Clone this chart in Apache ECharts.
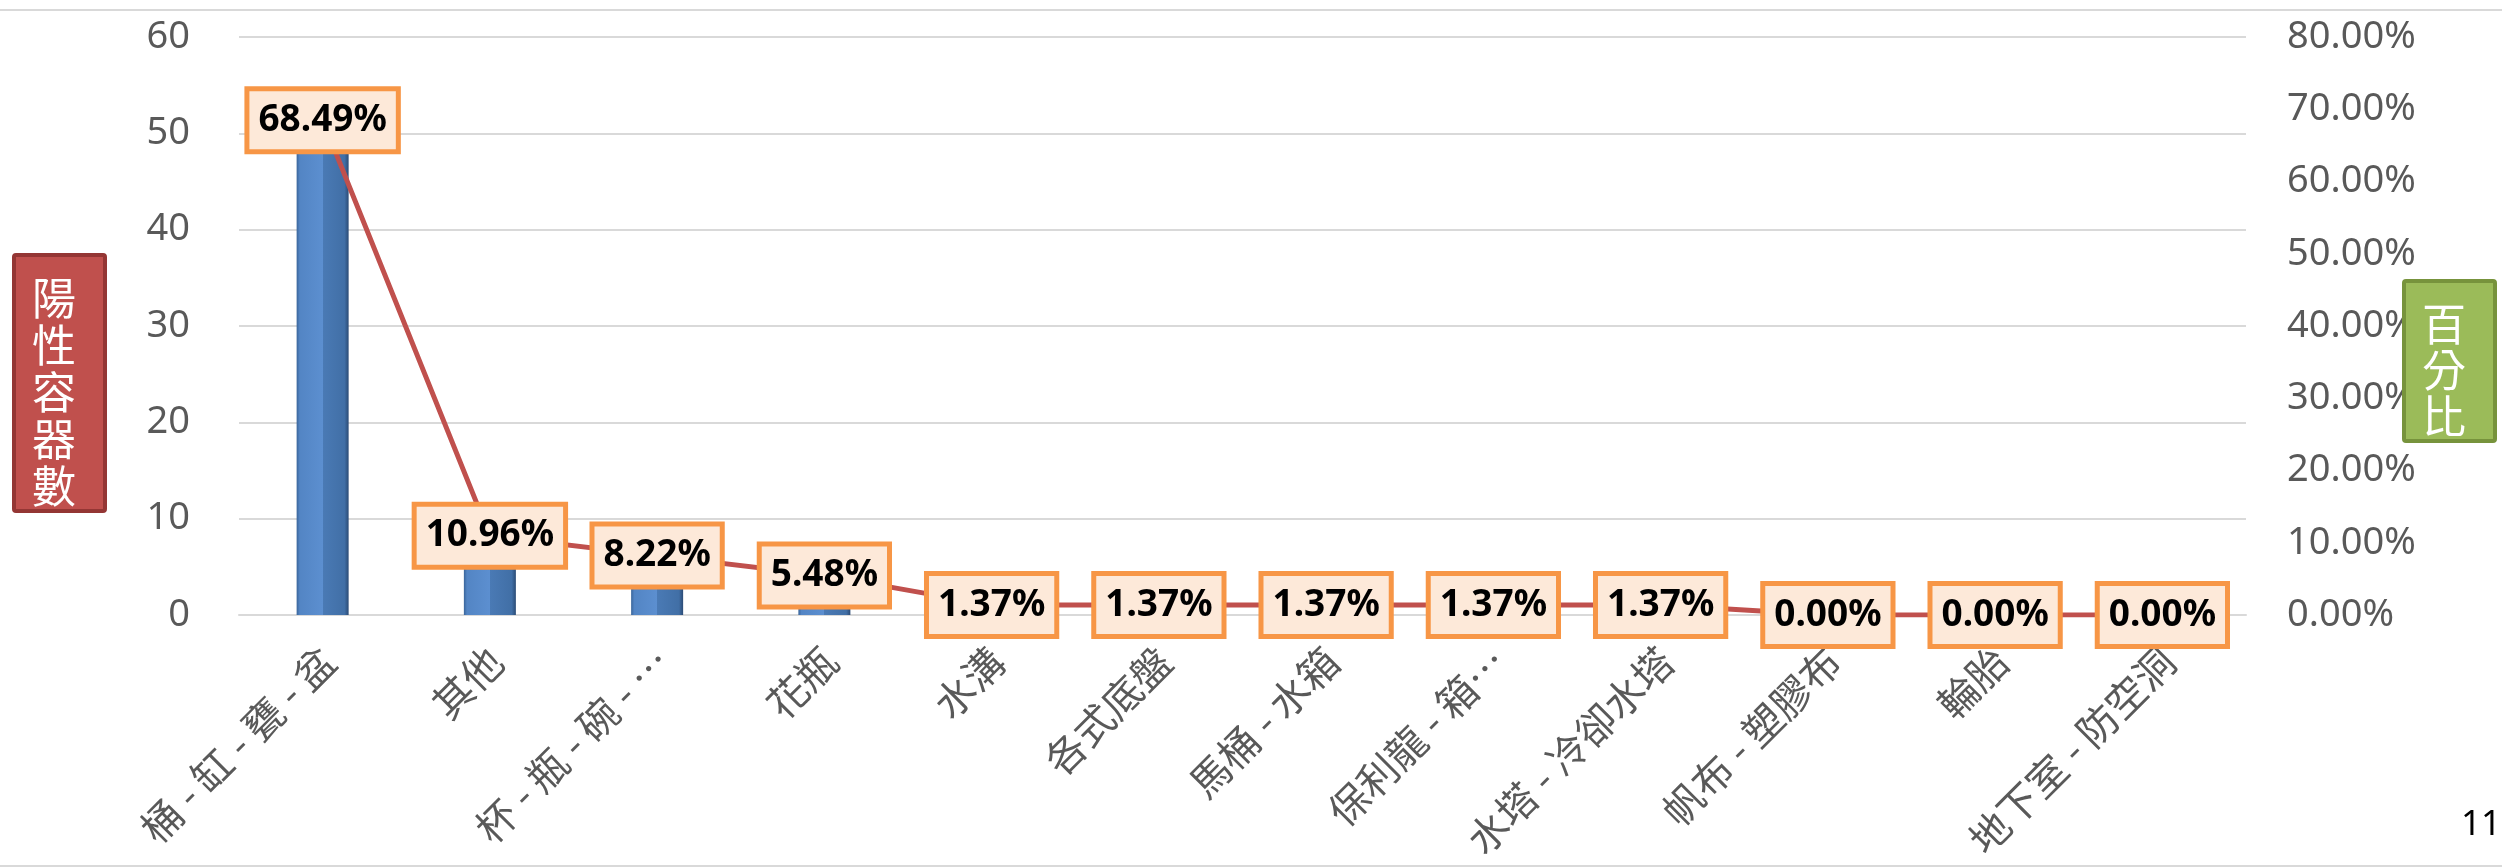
<!DOCTYPE html>
<html>
<head>
<meta charset="utf-8">
<script src="https://cdn.jsdelivr.net/npm/echarts@6/dist/echarts.min.js"></script>
<style>
html,body{margin:0;padding:0;background:#fff;}
#chart{width:2502px;height:867px;}
</style>
</head>
<body>
<div id="chart"></div>
<script>
var categories = ['桶 - 缸 - 甕 - 盆', '其他', '杯 - 瓶 - 碗 - …', '花瓶', '水溝', '各式底盤', '馬桶 - 水箱', '保利龍 - 箱…', '水塔 - 冷卻水塔', '帆布 - 塑膠布', '輪胎', '地下室 - 防空洞'];
var counts = [50, 8, 6, 4, 1, 1, 1, 1, 1, 0, 0, 0];
var percents = [0.6849, 0.1096, 0.0822, 0.0548, 0.0137, 0.0137, 0.0137, 0.0137, 0.0137, 0, 0, 0];
var leftTitle = '陽性容器數';
var rightTitle = '百分比';
var pageNumber = '11';

var chart = echarts.init(document.getElementById('chart'));
var grey = '#595959';
var gridGrey = '#d9d9d9';
var option = {
  backgroundColor: '#ffffff',
  animation: false,
  grid: { left: 239, right: 256, top: 37, bottom: 252, containLabel: false, outerBoundsMode: 'none' },
  xAxis: {
    type: 'category',
    data: categories,
    axisTick: { show: false },
    axisLine: { show: true, lineStyle: { color: gridGrey, width: 2 } },
    axisLabel: { interval: 0, rotate: 45, fontSize: 40, color: grey, margin: 45, padding: [0, -8, 0, 0], fontFamily: 'Noto Sans CJK TC' }
  },
  yAxis: [
    {
      type: 'value', min: 0, max: 60, interval: 10,
      axisLine: { show: false }, axisTick: { show: false },
      splitLine: { show: true, lineStyle: { color: gridGrey, width: 2 } },
      axisLabel: { fontSize: 38, color: grey, margin: 49, fontFamily: 'Noto Sans' }
    },
    {
      type: 'value', min: 0, max: 0.8, interval: 0.1, position: 'right',
      axisLine: { show: false }, axisTick: { show: false },
      splitLine: { show: false },
      axisLabel: {
        fontSize: 38, color: grey, margin: 41, fontFamily: 'Noto Sans',
        formatter: function (v) { return (v * 100).toFixed(2) + '%'; }
      }
    }
  ],
  series: [
    {
      type: 'bar',
      data: counts,
      barWidth: 52,
      z: 2,
      itemStyle: {
        color: {
          type: 'linear', x: 0, y: 0, x2: 1, y2: 0,
          colorStops: [
            { offset: 0, color: '#3a659a' },
            { offset: 0.06, color: '#5385c4' },
            { offset: 0.5, color: '#5c8fd0' },
            { offset: 0.5, color: '#4a7ab5' },
            { offset: 0.92, color: '#416fa6' },
            { offset: 1, color: '#2b4b75' }
          ]
        }
      }
    },
    {
      type: 'line',
      yAxisIndex: 1,
      data: percents,
      z: 5,
      symbol: 'circle',
      symbolSize: 4,
      showSymbol: true,
      showAllSymbol: true,
      itemStyle: { color: '#c0504d' },
      lineStyle: { color: '#c0504d', width: 5 },
      label: {
        show: true,
        position: 'inside',
        formatter: function (p) { return (p.value * 100).toFixed(2) + '%'; },
        fontSize: 37,
        fontWeight: 'bold',
        fontFamily: 'Noto Sans',
        color: '#000000',
        backgroundColor: '#fde9d9',
        borderColor: '#f79646',
        borderWidth: 5,
        padding: [7, 9, 7, 9],
        lineHeight: 44
      }
    }
  ],
  graphic: [
    { type: 'line', shape: { x1: 0, y1: 10, x2: 2502, y2: 10 }, style: { stroke: gridGrey, lineWidth: 2 }, z: 0 },
    { type: 'line', shape: { x1: 0, y1: 866, x2: 2502, y2: 866 }, style: { stroke: gridGrey, lineWidth: 2 }, z: 0 },
    { type: 'rect', shape: { x: 14, y: 255, width: 91, height: 256, r: 2 }, style: { fill: '#c0504d', stroke: '#943634', lineWidth: 4 }, z: 20 },
    { type: 'text', x: 54, y: 392, style: { text: leftTitle.split('').join('\n'), fill: '#ffffff', fontSize: 44, lineHeight: 47, fontFamily: 'Noto Sans CJK TC', align: 'center', verticalAlign: 'middle' }, z: 21 },
    { type: 'rect', shape: { x: 2404, y: 281, width: 91, height: 160, r: 2 }, style: { fill: '#9bbb59', stroke: '#77933c', lineWidth: 4 }, z: 20 },
    { type: 'text', x: 2444, y: 370, style: { text: rightTitle.split('').join('\n'), fill: '#ffffff', fontSize: 44, lineHeight: 46, fontFamily: 'Noto Sans CJK TC', align: 'center', verticalAlign: 'middle' }, z: 21 },
    { type: 'text', x: 2501, y: 825, style: { text: pageNumber, fill: '#000000', fontSize: 35, fontFamily: 'Noto Sans', align: 'right', verticalAlign: 'middle' }, z: 21 }
  ]
};
chart.setOption(option);
</script>
</body>
</html>
